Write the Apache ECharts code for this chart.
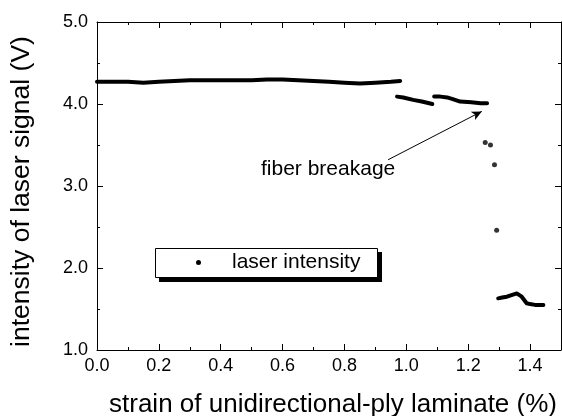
<!DOCTYPE html>
<html>
<head>
<meta charset="utf-8">
<script src="https://cdn.jsdelivr.net/npm/echarts@6/dist/echarts.min.js"></script>
<style>
html,body{margin:0;padding:0;background:#fff;}
#chart{width:562px;height:416px;}
</style>
</head>
<body>
<div id="chart"></div>
<script>
// strain (%) and laser intensity (V)
var flatX = [0.00, 0.05, 0.10, 0.15, 0.20, 0.25, 0.30, 0.35, 0.40, 0.45, 0.50, 0.55, 0.60, 0.65, 0.70, 0.75, 0.80, 0.85, 0.90, 0.95, 0.98];
var flatY = [4.27, 4.27, 4.27, 4.26, 4.27, 4.28, 4.29, 4.29, 4.29, 4.29, 4.29, 4.30, 4.30, 4.29, 4.28, 4.27, 4.26, 4.25, 4.26, 4.27, 4.28];
var seg2X = [0.970, 0.990, 1.022, 1.050, 1.084];
var seg2Y = [4.09, 4.08, 4.05, 4.03, 4.00];
var seg3X = [1.090, 1.110, 1.132, 1.150, 1.174, 1.210, 1.240, 1.261];
var seg3Y = [4.09, 4.09, 4.08, 4.06, 4.03, 4.02, 4.01, 4.01];
var dropX = [1.255, 1.272, 1.285, 1.292];
var dropY = [3.53, 3.50, 3.26, 2.46];
var lowX = [1.297, 1.310, 1.325, 1.340, 1.357, 1.373, 1.389, 1.400, 1.416, 1.430, 1.443];
var lowY = [1.63, 1.64, 1.65, 1.67, 1.69, 1.65, 1.57, 1.56, 1.55, 1.55, 1.55];
var seriesName = 'laser intensity';
var xTitle = 'strain of unidirectional-ply laminate (%)';
var yTitle = 'intensity of laser signal (V)';
var noteText = 'fiber breakage';
var arrowFrom = [0.941, 3.32];
var arrowTo = [1.244, 3.91];

function pairs(xs, ys) { return xs.map(function (x, i) { return [x, ys[i]]; }); }

var FONT = 'Liberation Sans, Arial, sans-serif';
var chart = echarts.init(document.getElementById('chart'), null, {renderer: 'canvas'});

function lineSeries(xs, ys, extra) {
  var s = {
    name: seriesName, type: 'line', data: pairs(xs, ys),
    showSymbol: false, symbol: 'circle', symbolSize: 5,
    lineStyle: {color: '#000', width: 4, cap: 'round', join: 'round'},
    itemStyle: {color: '#000'},
    silent: true, animation: false, z: 3
  };
  if (extra) { for (var k in extra) s[k] = extra[k]; }
  return s;
}

var tickCommon = {show: true, inside: true, length: 6, lineStyle: {color: '#000', width: 1}};
var minorCommon = {show: true, splitNumber: 2, length: 3, lineStyle: {color: '#000', width: 1}};

var option = {
  backgroundColor: '#fff',
  animation: false,
  grid: {left: 97, right: 1, top: 22, bottom: 66, containLabel: false, outerBoundsMode: 'none'},
  legend: {
    left: 155, top: 248, orient: 'horizontal', z: 10,
    data: [{name: seriesName, icon: 'circle'}],
    itemWidth: 5, itemHeight: 5,
    padding: [4, 16, 4, 41],
    textStyle: {fontFamily: FONT, fontSize: 21, color: '#000', padding: [0, 0, 0, 26]},
    selectedMode: false
  },
  xAxis: [{
    type: 'value', min: 0, max: 1.5, interval: 0.2, position: 'bottom',
    name: xTitle, nameLocation: 'middle', nameGap: 42,
    nameTextStyle: {fontFamily: FONT, fontSize: 26, color: '#000', padding: [0, 0, 0, 8]},
    axisLine: {show: true, onZero: false, lineStyle: {color: '#000', width: 1}},
    axisTick: tickCommon, minorTick: minorCommon,
    axisLabel: {fontFamily: FONT, fontSize: 18, color: '#000', margin: 7, showMaxLabel: false,
      formatter: function (v) { return v.toFixed(1); }},
    splitLine: {show: false}
  }, {
    type: 'value', min: 0, max: 1.5, interval: 0.2, position: 'top',
    axisLine: {show: true, onZero: false, lineStyle: {color: '#000', width: 1}},
    axisTick: tickCommon, minorTick: minorCommon,
    axisLabel: {show: false}, splitLine: {show: false}
  }],
  yAxis: [{
    type: 'value', min: 1, max: 5, interval: 1, position: 'left',
    name: yTitle, nameLocation: 'middle', nameGap: 62,
    nameTextStyle: {fontFamily: FONT, fontSize: 26.5, color: '#000', padding: [0, 11, 0, 0]},
    axisLine: {show: true, onZero: false, lineStyle: {color: '#000', width: 1}},
    axisTick: tickCommon, minorTick: minorCommon,
    axisLabel: {fontFamily: FONT, fontSize: 18, color: '#000', margin: 9,
      formatter: function (v) { return v.toFixed(1); }},
    splitLine: {show: false}
  }, {
    type: 'value', min: 1, max: 5, interval: 1, position: 'right',
    axisLine: {show: true, onZero: false, lineStyle: {color: '#000', width: 1}},
    axisTick: tickCommon, minorTick: minorCommon,
    axisLabel: {show: false}, splitLine: {show: false}
  }],
  series: [
    lineSeries(flatX, flatY, {
      markLine: {
        silent: true, symbol: ['none', 'arrow'], symbolSize: [7, 10],
        label: {show: false},
        lineStyle: {color: '#000', width: 1, type: 'solid'},
        data: [[{coord: arrowFrom}, {coord: arrowTo}]]
      }
    }),
    lineSeries(seg2X, seg2Y),
    lineSeries(seg3X, seg3Y),
    lineSeries(lowX, lowY),
    {name: seriesName, type: 'scatter', data: pairs(dropX, dropY), symbol: 'circle', symbolSize: 5,
     itemStyle: {color: '#000'}, silent: true, z: 3}
  ],
  graphic: [{
    type: 'rect', left: 159, top: 252, z: 5, silent: true,
    shape: {width: 223, height: 30},
    style: {fill: '#000'}
  }, {
    type: 'rect', left: 155, top: 248, z: 6, silent: true,
    shape: {width: 222, height: 29},
    style: {fill: '#fff', stroke: '#000', lineWidth: 1}
  }, {
    type: 'text', left: 261, top: 159, silent: true,
    style: {text: noteText, fontFamily: FONT, fontSize: 21, fill: '#000'}
  }]
};
chart.setOption(option);
</script>
</body>
</html>
